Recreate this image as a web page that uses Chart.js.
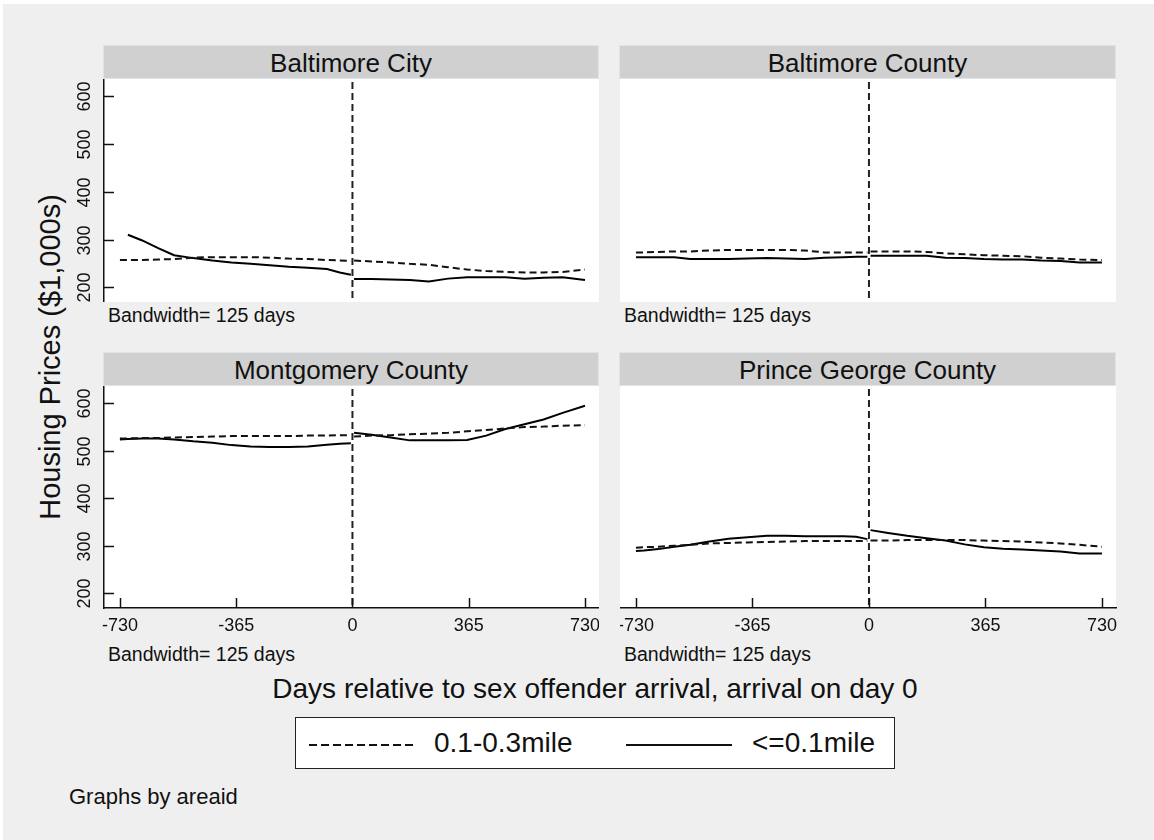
<!DOCTYPE html>
<html>
<head>
<meta charset="utf-8">
<script src="https://cdn.jsdelivr.net/npm/chart.js@4.4.1/dist/chart.umd.min.js"></script>
<style>
  html, body { margin: 0; padding: 0; background: #fff; width: 1154px; height: 840px; overflow: hidden; }
  body { position: relative; font-family: "Liberation Sans", Arial, sans-serif; color: #111; }
  #bg { position: absolute; left: 3px; top: 4px; width: 1151px; height: 836px; background: #efefef; }
  .strip { position: absolute; height: 34px; line-height: 34px; background: #d0d0d0; text-align: center;
           font-size: 26px; box-sizing: border-box; border: 1px solid #dde4ea; }
  .note { position: absolute; font-size: 19.5px; line-height: 22px; white-space: nowrap; }
  .cv { position: absolute; }
  #ytitle { position: absolute; left: 50px; top: 357px; font-size: 29px; line-height: 29px; white-space: nowrap;
            transform: translate(-50%, -50%) rotate(-90deg); }
  #xtitle { position: absolute; left: 595px; top: 689px; font-size: 28px; line-height: 28px; white-space: nowrap;
            transform: translate(-50%, -50%); }
  #legend { position: absolute; left: 295px; top: 717px; width: 600px; height: 52px; box-sizing: border-box;
            border: 1px solid #222; background: #fff; }
  #legend span { position: absolute; top: 9px; font-size: 28px; line-height: 32px; white-space: nowrap; }
  #legend svg { position: absolute; left: 0; top: 0; }
  #byline { position: absolute; left: 69px; top: 785px; font-size: 22px; line-height: 24px; white-space: nowrap; }
</style>
</head>
<body>
<div id="bg"></div>
<div id="ytitle">Housing Prices ($1,000s)</div>
<div id="xtitle">Days relative to sex offender arrival, arrival on day 0</div>
<div id="legend">
  <svg width="600" height="52">
    <line x1="13" y1="27" x2="121" y2="27" stroke="#111" stroke-width="2" stroke-dasharray="8 4"></line>
    <line x1="330" y1="27" x2="436" y2="27" stroke="#111" stroke-width="2"></line>
  </svg>
  <span id="lgFar" style="left:138px"></span>
  <span id="lgNear" style="left:456px"></span>
</div>
<div id="byline">Graphs by areaid</div>

<script>
// facet titles, axis ticks and series names
const panelTitles = ["Baltimore City", "Baltimore County", "Montgomery County", "Prince George County"];
const seriesNames = ["0.1-0.3mile", "<=0.1mile"];
const bandwidthNote = "Bandwidth= 125 days";
const xTicks = [-730, -365, 0, 365, 730];
const yTicks = [200, 300, 400, 500, 600];

// days relative to arrival
const daysBefore = [-730, -705, -660, -610, -560, -500, -440, -380, -320, -260, -200, -140, -80, -40, -5];
const daysAfter = [5, 60, 120, 180, 240, 300, 360, 420, 480, 540, 600, 660, 730];

// prices ($1,000s): "far" = 0.1-0.3mile (dashed), "near" = <=0.1mile (solid)
const cityFarBefore = [257, 257, 257, 258, 259, 262, 263, 263, 263, 262, 260, 259, 257, 256, 255];
const cityFarAfter = [256, 254, 252, 249, 247, 242, 237, 234, 232, 231, 231, 232, 237];
const cityNearBefore = [null, 310, 298, 282, 267, 261, 256, 252, 249, 246, 243, 241, 238, 231, 226];
const cityNearAfter = [217, 217, 216, 215, 212, 218, 221, 221, 221, 218, 220, 221, 215];

const countyFarBefore = [273, 273, 274, 275, 275, 277, 278, 278, 278, 278, 277, 273, 273, 273, 273];
const countyFarAfter = [275, 275, 275, 274, 271, 269, 267, 266, 265, 262, 260, 258, 257];
const countyNearBefore = [263, 263, 263, 263, 259, 259, 259, 260, 261, 260, 259, 262, 263, 264, 264];
const countyNearAfter = [266, 266, 266, 266, 262, 261, 259, 258, 258, 256, 255, 252, 252];

const montFarBefore = [526, 526, 527, 527, 528, 529, 530, 531, 531, 531, 531, 532, 532, 533, 533];
const montFarAfter = [530, 532, 533, 535, 536, 538, 541, 544, 547, 550, 551, 553, 554];
const montNearBefore = [524, 525, 526, 526, 524, 520, 517, 512, 509, 508, 508, 509, 513, 515, 516];
const montNearAfter = [538, 534, 528, 522, 522, 522, 523, 532, 546, 556, 566, 580, 595];

const pgFarBefore = [296, 297, 298, 300, 302, 305, 306, 307, 308, 309, 310, 310, 310, 310, 310];
const pgFarAfter = [311, 311, 312, 312, 312, 312, 311, 310, 309, 307, 305, 302, 298];
const pgNearBefore = [289, 290, 293, 298, 302, 309, 315, 318, 321, 321, 320, 320, 320, 319, 314];
const pgNearAfter = [333, 327, 321, 316, 311, 303, 297, 294, 292, 290, 288, 284, 284];

const panelSeries = [
  [cityFarBefore, cityFarAfter, cityNearBefore, cityNearAfter],
  [countyFarBefore, countyFarAfter, countyNearBefore, countyNearAfter],
  [montFarBefore, montFarAfter, montNearBefore, montNearAfter],
  [pgFarBefore, pgFarAfter, pgNearBefore, pgNearAfter],
];

// panel placement (plot area = canvas minus axis strips)
const boxes = [
  { left: 60, top: 79, plotW: 495, plotH: 223, yAxis: true, xAxis: false, padR: 0 },
  { left: 620, top: 79, plotW: 496, plotH: 223, yAxis: false, xAxis: false, padR: 0 },
  { left: 60, top: 386, plotW: 495, plotH: 222, yAxis: true, xAxis: true, padR: 0 },
  { left: 620, top: 386, plotW: 496, plotH: 222, yAxis: false, xAxis: true, padR: 8 },
];
const Y_AXIS_W = 44, X_AXIS_H = 34;

Chart.defaults.font.family = '"Liberation Sans", Arial, sans-serif';
Chart.defaults.color = "#111";

document.getElementById("lgFar").textContent = seriesNames[0];
document.getElementById("lgNear").textContent = seriesNames[1];

// white plot region, inward ticks, rotated y labels and the dashed day-0 line
const stataAxes = {
  id: "stataAxes",
  beforeDraw(chart) {
    const { ctx, chartArea: a } = chart;
    ctx.save();
    ctx.fillStyle = "#fff";
    ctx.fillRect(a.left, a.top, a.right - a.left, a.bottom - a.top);
    ctx.restore();
  },
  beforeDatasetsDraw(chart) {
    const { ctx, chartArea: a, scales: { x } } = chart;
    const px = x.getPixelForValue(0);
    ctx.save();
    ctx.strokeStyle = "#222";
    ctx.lineWidth = 2;
    ctx.setLineDash([7, 4]);
    ctx.beginPath();
    ctx.moveTo(px, a.top + 3);
    ctx.lineTo(px, a.bottom);
    ctx.stroke();
    ctx.restore();
  },
  afterDraw(chart, args, opts) {
    const { ctx, chartArea: a, scales: { x, y } } = chart;
    ctx.save();
    ctx.strokeStyle = "#111";
    ctx.lineWidth = 1.5;
    if (opts.yAxis) {
      y.ticks.forEach((t) => {
        const py = Math.round(y.getPixelForValue(t.value)) + 0.5;
        ctx.beginPath(); ctx.moveTo(a.left, py); ctx.lineTo(a.left + 10, py); ctx.stroke();
        ctx.save();
        ctx.translate(a.left - 19, py);
        ctx.rotate(-Math.PI / 2);
        ctx.fillStyle = "#111";
        ctx.font = '18px "Liberation Sans", Arial, sans-serif';
        ctx.textAlign = "center";
        ctx.textBaseline = "middle";
        ctx.fillText(String(t.value), 0, 0);
        ctx.restore();
      });
    }
    if (opts.xAxis) {
      x.ticks.forEach((t) => {
        const px = Math.round(x.getPixelForValue(t.value)) + 0.5;
        ctx.beginPath(); ctx.moveTo(px, a.bottom); ctx.lineTo(px, a.bottom - 10); ctx.stroke();
      });
    }
    ctx.restore();
  },
};

function makeData(days, vals) {
  return days.map((d, i) => ({ x: d, y: vals[i] }));
}

boxes.forEach((b, i) => {
  const strip = document.createElement("div");
  strip.className = "strip";
  strip.textContent = panelTitles[i];
  const plotLeft = b.left + (b.yAxis ? Y_AXIS_W : 0);
  strip.style.left = (plotLeft - 1) + "px";
  strip.style.top = (b.top - 34) + "px";
  strip.style.width = (b.plotW + 1) + "px";
  document.body.appendChild(strip);

  const note = document.createElement("div");
  note.className = "note";
  note.textContent = bandwidthNote;
  note.style.left = (plotLeft + 4) + "px";
  note.style.top = (b.top + b.plotH + (b.xAxis ? X_AXIS_H + 1 : 2)) + "px";
  document.body.appendChild(note);

  const canvas = document.createElement("canvas");
  canvas.className = "cv";
  const w = b.plotW + (b.yAxis ? Y_AXIS_W : 0) + b.padR;
  const h = b.plotH + (b.xAxis ? X_AXIS_H : 0);
  canvas.width = w; canvas.height = h;
  canvas.style.left = b.left + "px";
  canvas.style.top = b.top + "px";
  canvas.style.width = w + "px";
  canvas.style.height = h + "px";
  document.body.appendChild(canvas);

  const [farB, farA, nearB, nearA] = panelSeries[i];
  const dashed = { borderColor: "#111", borderWidth: 2, borderDash: [7, 4], pointRadius: 0, tension: 0, fill: false };
  const solid = { borderColor: "#000", borderWidth: 2, pointRadius: 0, tension: 0, fill: false };

  new Chart(canvas, {
    type: "line",
    data: {
      datasets: [
        { label: seriesNames[0], data: makeData(daysBefore, farB), ...dashed },
        { label: seriesNames[0], data: makeData(daysAfter, farA), ...dashed },
        { label: seriesNames[1], data: makeData(daysBefore, nearB), ...solid },
        { label: seriesNames[1], data: makeData(daysAfter, nearA), ...solid },
      ],
    },
    options: {
      responsive: false,
      animation: false,
      events: [],
      layout: { padding: { left: 0, top: 0, bottom: 0, right: b.padR } },
      plugins: {
        legend: { display: false },
        tooltip: { enabled: false },
        stataAxes: { yAxis: b.yAxis, xAxis: b.xAxis },
      },
      scales: {
        x: {
          type: "linear", min: -780, max: 774, display: b.xAxis,
          afterBuildTicks: (s) => { s.ticks = xTicks.map((v) => ({ value: v })); },
          afterFit: (s) => {
            if (!b.xAxis) return;
            s.height = X_AXIS_H; s.paddingLeft = 0; s.paddingRight = 0;
          },
          grid: { drawOnChartArea: false, drawTicks: false },
          border: { display: true, color: "#111", width: 1.5 },
          ticks: { autoSkip: false, maxRotation: 0, minRotation: 0, padding: 7, color: "#111",
                   font: { size: 18 }, callback: (v) => String(v) },
        },
        y: {
          type: "linear", min: 169, max: 636.5, display: b.yAxis,
          afterBuildTicks: (s) => { s.ticks = yTicks.map((v) => ({ value: v })); },
          afterFit: (s) => {
            if (!b.yAxis) return;
            s.width = Y_AXIS_W; s.paddingTop = 0; s.paddingBottom = 0;
          },
          grid: { drawOnChartArea: false, drawTicks: false },
          border: { display: true, color: "#111", width: 1.5 },
          ticks: { display: false },
        },
      },
    },
    plugins: [stataAxes],
  });
});
</script>
</body>
</html>
